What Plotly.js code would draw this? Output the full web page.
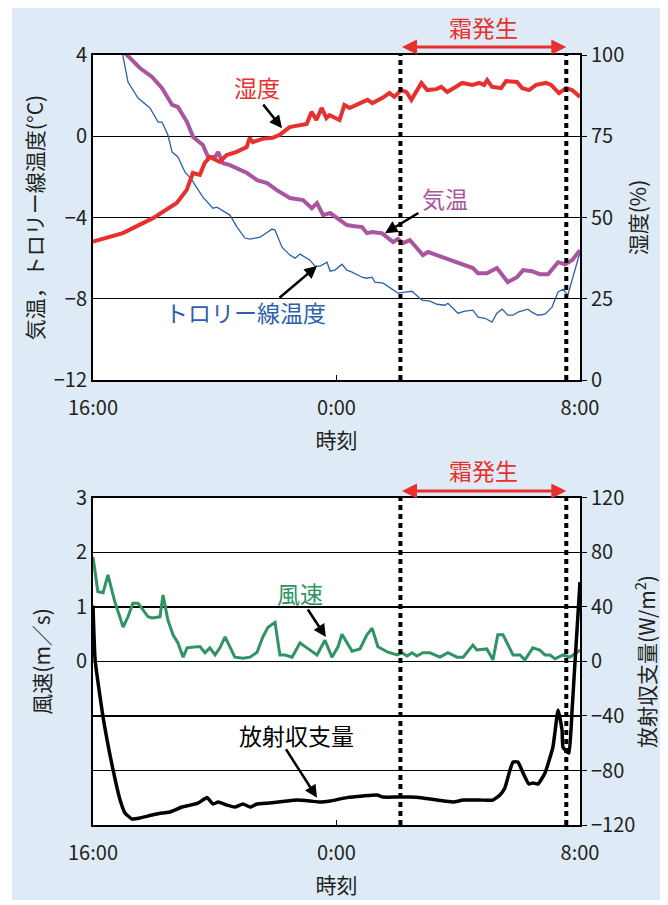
<!DOCTYPE html>
<html>
<head>
<meta charset="utf-8">
<script src="https://cdn.plot.ly/plotly-3.0.1.min.js"></script>
<style>html,body{margin:0;padding:0;background:#fff;}#chart{width:668px;height:905px;}</style>
</head>
<body>
<div id="chart"></div>
<script>
// Hours since 16:00
const timeTickVals = [0, 8, 16];
const timeTickText = ['16:00', '0:00', '8:00'];
const frostStart = 10.1, frostEnd = 15.55;

// Humidity (%)
const humHours = [0,0.98,1.97,2.75,3.08,3.28,3.51,3.67,3.84,4.16,4.39,4.72,5.05,5.15,5.25,5.57,5.9,6.13,6.46,7.02,7.18,7.34,7.51,7.67,7.77,8.1,8.26,8.43,8.85,9.02,9.18,9.51,9.74,9.9,10.13,10.3,10.46,10.79,10.98,11.28,11.44,11.64,12.13,12.46,12.69,12.85,12.95,13.11,13.41,13.57,13.93,14.1,14.33,14.56,14.89,15.05,15.31,15.54,15.74,16];
const humValues = [42.6,45.2,49.8,54.5,58.5,63.7,63.1,66.8,68.6,67.1,69.2,70.2,71.7,74.5,73.2,74.2,74.5,75.4,77.8,78.8,82.5,80.0,83.7,80.6,81.5,80.0,84.6,83.7,85.5,86.2,85.2,86.8,88.3,87.1,89.2,88.6,86.2,91.4,89.2,89.5,90.2,88.6,91.4,90.8,91.4,90.8,92.3,90.2,89.8,92.0,91.7,89.8,89.2,90.8,91.4,90.8,88.3,89.8,89.2,87.1];

// Air temperature (°C)
const airHours = [0.8,1.05,1.54,1.94,2.27,2.6,2.79,3.09,3.29,3.61,3.78,4.01,4.11,4.27,4.5,5.06,5.39,5.72,6.04,6.47,6.9,7.19,7.36,7.56,7.79,8.02,8.34,8.54,8.84,9.0,9.17,9.49,9.86,10.02,10.18,10.41,10.84,11.01,11.73,11.96,12.48,12.65,12.94,13.27,13.63,13.93,14.13,14.42,14.68,14.95,15.28,15.51,15.74,16];
const airValues = [4.6,4.1,3.36,2.92,2.37,1.54,1.44,0.7,-0.04,-0.43,-1.02,-1.02,-0.78,-1.32,-1.42,-1.81,-2.16,-2.31,-2.65,-3.04,-3.14,-3.54,-3.29,-3.88,-3.78,-4.03,-4.37,-4.42,-4.47,-4.77,-4.72,-4.77,-5.21,-5.06,-5.26,-5.11,-5.85,-5.7,-6.1,-6.25,-6.49,-6.74,-6.74,-6.49,-7.18,-6.94,-6.59,-6.64,-6.79,-6.79,-6.2,-6.3,-6.1,-5.61];

// Trolley wire temperature (°C)
const wireHours = [0.9,1.15,1.48,1.87,2.14,2.27,2.46,2.6,2.79,3.02,3.25,3.61,3.94,4.07,4.5,4.73,4.99,5.16,5.49,5.88,5.98,6.21,6.47,6.64,6.8,7.13,7.29,7.46,7.69,7.79,7.95,8.18,8.34,8.51,8.84,9.0,9.17,9.26,9.53,10.02,10.25,10.48,10.81,11.07,11.3,11.56,11.66,11.99,12.22,12.48,12.65,12.88,13.11,13.27,13.44,13.63,13.8,13.96,14.29,14.42,14.62,14.85,15.08,15.28,15.44,15.6,16];
const wireValues = [4.6,2.67,1.88,1.39,0.7,0.7,0.06,-0.78,-1.02,-1.76,-2.16,-3.0,-3.54,-3.49,-3.88,-4.47,-5.01,-5.06,-4.97,-4.57,-4.62,-5.46,-5.85,-6.0,-5.8,-6.1,-6.39,-6.39,-6.2,-6.64,-6.59,-6.3,-6.59,-6.69,-6.94,-6.99,-6.94,-7.18,-7.23,-7.72,-7.67,-7.63,-8.07,-8.12,-8.27,-8.32,-8.22,-8.71,-8.61,-8.56,-8.91,-8.96,-9.15,-8.71,-8.51,-8.81,-8.81,-8.66,-8.51,-8.66,-8.81,-8.76,-8.41,-7.67,-7.53,-7.82,-5.7];

// Wind speed (m/s)
const windHours = [0,0.16,0.33,0.49,0.72,0.99,1.15,1.31,1.48,1.81,1.94,2.2,2.3,2.46,2.63,2.79,2.96,3.09,3.42,3.52,3.68,3.84,4.01,4.17,4.34,4.5,4.66,4.93,5.16,5.39,5.58,5.75,5.98,6.14,6.31,6.54,6.8,7.03,7.36,7.62,7.85,8.05,8.18,8.51,8.77,9.0,9.17,9.36,9.69,9.99,10.15,10.32,10.48,10.64,10.84,11.07,11.4,11.66,11.96,12.16,12.48,12.61,12.94,13.14,13.3,13.47,13.8,14.03,14.19,14.45,14.68,14.85,15.01,15.18,15.44,15.67,16];
const windValues = [1.92,1.28,1.26,1.59,1.09,0.63,0.82,1.07,1.07,0.82,0.8,0.82,1.22,0.76,0.49,0.34,0.08,0.25,0.27,0.27,0.16,0.25,0.12,0.25,0.45,0.27,0.08,0.06,0.08,0.17,0.45,0.63,0.72,0.12,0.12,0.08,0.34,0.25,0.12,0.39,0.08,0.27,0.5,0.19,0.23,0.49,0.61,0.27,0.17,0.12,0.16,0.1,0.16,0.1,0.16,0.16,0.08,0.16,0.08,0.08,0.3,0.21,0.23,0.03,0.49,0.49,0.12,0.12,0.03,0.25,0.21,0.12,0.12,0.05,0.12,0.08,0.21];

// Net radiation (W/m2)
const radHours = [0,0.07,0.33,0.66,0.89,1.05,1.28,1.54,1.94,2.27,2.53,2.69,2.92,3.19,3.45,3.75,3.94,4.11,4.4,4.66,4.93,5.16,5.39,5.81,6.37,6.7,7.13,7.46,7.79,8.34,8.87,9.33,9.53,9.99,10.41,10.84,11.3,11.83,12.16,12.71,13.14,13.37,13.53,13.7,13.8,13.96,14.13,14.32,14.45,14.62,14.85,15.11,15.28,15.41,15.44,15.57,15.64,15.74,15.84,16];
const radValues = [41,1,-40.7,-79.6,-101.7,-111.2,-115.6,-114.9,-112.7,-111.2,-110.5,-109.0,-106.8,-105.4,-103.9,-99.9,-104.6,-103.2,-105.4,-106.8,-104.6,-106.8,-104.6,-103.9,-102.4,-101.7,-102.4,-103.2,-102.4,-99.9,-98.7,-98.0,-99.5,-99.5,-99.5,-100.2,-101.7,-103.1,-101.7,-101.7,-101.7,-98.0,-92.8,-79.6,-73.8,-73.8,-81.8,-89.9,-89.2,-89.9,-81.8,-62.8,-35.6,-50.3,-62.8,-66.4,-67.2,-35.6,1.1,58.3];

const FONT = "'Noto Sans CJK JP', 'Noto Sans', sans-serif";
const TXT = '#231f20';
const RED = '#e8302e', PURPLE = '#a9559f', BLUE = '#2d5fad', GREEN = '#2f9463';

const traces = [
  {x: wireHours, y: wireValues, xaxis: 'x', yaxis: 'y', mode: 'lines', line: {color: BLUE, width: 1.3}, name: 'トロリー線温度'},
  {x: airHours, y: airValues, xaxis: 'x', yaxis: 'y', mode: 'lines', line: {color: PURPLE, width: 4}, name: '気温'},
  {x: humHours, y: humValues, xaxis: 'x', yaxis: 'y2', mode: 'lines', line: {color: RED, width: 4}, name: '湿度'},
  {x: windHours, y: windValues, xaxis: 'x2', yaxis: 'y3', mode: 'lines', line: {color: GREEN, width: 3}, name: '風速'},
  {x: radHours, y: radValues, xaxis: 'x2', yaxis: 'y4', mode: 'lines', line: {color: '#000', width: 3.5, shape: 'spline', smoothing: 0.4}, name: '放射収支量'}
];

const tickFont = {family: FONT, size: 20, color: TXT};
const titleFont = {family: FONT, size: 21, color: TXT};
const labelSize = 23;
const xCommon = {range: [0, 16], tickvals: timeTickVals, ticktext: timeTickText, ticks: 'inside', ticklen: 5, tickcolor: '#000',
  ticklabelstandoff: 9,
  showline: true, linecolor: '#000', linewidth: 2, mirror: true, showgrid: false, zeroline: false, tickfont: tickFont, fixedrange: true};

const layout = {
  width: 668, height: 905,
  margin: {l: 93, r: 88, t: 55, b: 80},
  paper_bgcolor: '#ffffff', plot_bgcolor: '#ffffff',
  showlegend: false,
  font: {family: FONT, color: TXT},
  xaxis: Object.assign({}, xCommon, {domain: [0, 1], anchor: 'y', title: {text: '時刻', font: titleFont, standoff: 13}}),
  yaxis: {domain: [0.5779, 1], range: [-12, 4], dtick: 4, showgrid: true, gridcolor: '#000', gridwidth: 1.2, zeroline: false,
    showline: true, linecolor: '#000', linewidth: 2, ticks: '', tickfont: tickFont, anchor: 'x',
    title: {text: '気温，トロリー線温度(°C)', font: titleFont, standoff: 4}},
  yaxis2: {overlaying: 'y', side: 'right', range: [0, 100], dtick: 25, showgrid: false, zeroline: false, anchor: 'x',
    showline: true, linecolor: '#000', linewidth: 2, ticks: 'outside', ticklen: 5, tickcolor: '#000', tickfont: tickFont,
    title: {text: '湿度(%)', font: titleFont, standoff: 8}},
  xaxis2: Object.assign({}, xCommon, {domain: [0, 1], anchor: 'y3', title: {text: '時刻', font: titleFont, standoff: 13}}),
  yaxis3: {domain: [0, 0.4247], range: [-3, 3], tickvals: [0, 1, 2, 3], showgrid: false, zeroline: false, anchor: 'x2',
    showline: true, linecolor: '#000', linewidth: 2, ticks: '', tickfont: tickFont,
    title: {text: '風速(m／s)', font: titleFont, standoff: 20}},
  yaxis4: {overlaying: 'y3', side: 'right', range: [-120, 120], dtick: 40, showgrid: true, gridcolor: '#000', gridwidth: 1.2, zeroline: false, anchor: 'x2',
    showline: true, linecolor: '#000', linewidth: 2, ticks: 'outside', ticklen: 5, tickcolor: '#000', tickfont: tickFont,
    title: {text: '放射収支量(W/m<sup>2</sup>)', font: titleFont, standoff: 6}},
  shapes: [
    {type: 'rect', xref: 'paper', yref: 'paper', x0: -0.1663, x1: 1.1643, y0: -0.0974, y1: 1.061, fillcolor: '#deebf6', line: {width: 0}, layer: 'below'},
    {type: 'rect', xref: 'x domain', yref: 'y domain', x0: 0, x1: 1, y0: 0, y1: 1, fillcolor: '#ffffff', line: {width: 0}, layer: 'below'},
    {type: 'rect', xref: 'x2 domain', yref: 'y3 domain', x0: 0, x1: 1, y0: 0, y1: 1, fillcolor: '#ffffff', line: {width: 0}, layer: 'below'},
    {type: 'line', xref: 'x', yref: 'y domain', x0: frostStart, x1: frostStart, y0: 0, y1: 1, line: {color: '#000', width: 4, dash: '5px,4px'}},
    {type: 'line', xref: 'x', yref: 'y domain', x0: frostEnd, x1: frostEnd, y0: 0, y1: 1, line: {color: '#000', width: 4, dash: '5px,4px'}},
    {type: 'line', xref: 'x2', yref: 'y3 domain', x0: frostStart, x1: frostStart, y0: 0, y1: 1, line: {color: '#000', width: 4, dash: '5px,4px'}},
    {type: 'line', xref: 'x2', yref: 'y3 domain', x0: frostEnd, x1: frostEnd, y0: 0, y1: 1, line: {color: '#000', width: 4, dash: '5px,4px'}}
  ],
  annotations: [
    // frost arrows
    {xref: 'x', yref: 'paper', x: frostEnd, y: 1.0104, axref: 'x', ayref: 'paper', ax: frostStart, ay: 1.0104, text: '', showarrow: true,
      arrowside: 'end+start', arrowhead: 2, arrowsize: 1, arrowwidth: 3, arrowcolor: RED},
    {xref: 'x', yref: 'paper', x: (frostStart + frostEnd) / 2, y: 1.036, xanchor: 'center', yanchor: 'middle', text: '霜発生', showarrow: false, font: {family: FONT, size: labelSize, color: RED}},
    {xref: 'x2', yref: 'paper', x: frostEnd, y: 0.4338, axref: 'x2', ayref: 'paper', ax: frostStart, ay: 0.4338, text: '', showarrow: true,
      arrowside: 'end+start', arrowhead: 2, arrowsize: 1, arrowwidth: 3, arrowcolor: RED},
    {xref: 'x2', yref: 'paper', x: (frostStart + frostEnd) / 2, y: 0.461, xanchor: 'center', yanchor: 'middle', text: '霜発生', showarrow: false, font: {family: FONT, size: labelSize, color: RED}},
    // series labels
    {xref: 'x', yref: 'y2', x: 5.39, y: 90.2, text: '湿度', showarrow: false, font: {family: FONT, size: labelSize, color: RED}},
    {xref: 'x', yref: 'y2', x: 6.21, y: 77.5, ax: -20, ay: -25, text: '', showarrow: true, arrowhead: 2, arrowsize: 1, arrowwidth: 2.5, arrowcolor: '#000'},
    {xref: 'x', yref: 'y', x: 11.56, y: -3.04, text: '気温', showarrow: false, font: {family: FONT, size: labelSize, color: PURPLE}},
    {xref: 'x', yref: 'y', x: 9.59, y: -4.77, ax: 35, ay: -21, text: '', showarrow: true, arrowhead: 2, arrowsize: 1, arrowwidth: 2.5, arrowcolor: '#000'},
    {xref: 'x', yref: 'y', x: 5.02, y: -8.66, text: 'トロリー線温度', showarrow: false, font: {family: FONT, size: labelSize, color: BLUE}},
    {xref: 'x', yref: 'y', x: 7.36, y: -6.39, ax: -39, ay: 33, text: '', showarrow: true, arrowhead: 2, arrowsize: 1, arrowwidth: 2.5, arrowcolor: '#000'},
    {xref: 'x2', yref: 'y3', x: 6.80, y: 1.26, text: '風速', showarrow: false, font: {family: FONT, size: labelSize, color: GREEN}},
    {xref: 'x2', yref: 'y3', x: 7.65, y: 0.45, ax: -19, ay: -29, text: '', showarrow: true, arrowhead: 2, arrowsize: 1, arrowwidth: 2.5, arrowcolor: '#000'},
    {xref: 'x2', yref: 'y3', x: 6.70, y: -1.35, text: '放射収支量', showarrow: false, font: {family: FONT, size: labelSize, color: '#000'}},
    {xref: 'x2', yref: 'y3', x: 7.36, y: -2.50, ax: -32, ay: -50, text: '', showarrow: true, arrowhead: 2, arrowsize: 1, arrowwidth: 2.5, arrowcolor: '#000'}
  ]
};

Plotly.newPlot('chart', traces, layout, {staticPlot: true, displayModeBar: false});
</script>
</body>
</html>
